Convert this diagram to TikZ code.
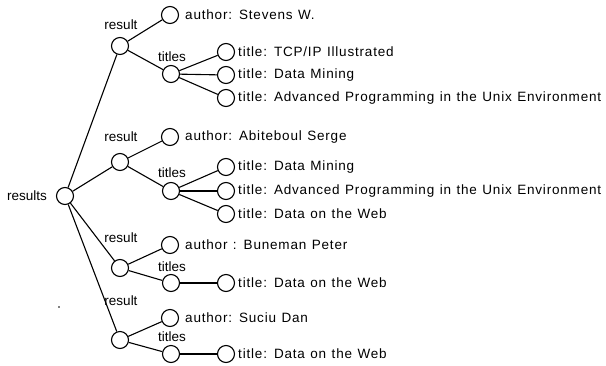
\documentclass[tikz,border=0pt]{standalone}
\usepackage{fontspec}
\setmainfont{Liberation Sans}[LetterSpace=6,WordSpace=1.2]
\newfontfamily\tightsf{Liberation Sans}
\begin{document}
\begin{tikzpicture}[x=1pt,y=-1pt,
  vtx/.style={draw,circle,minimum size=17pt,inner sep=0pt,line width=1.1pt},
  lbl/.style={anchor=west,inner sep=0pt,font=\fontsize{13.5}{15}\selectfont},
  elbl/.style={anchor=center,inner sep=0pt,font=\tightsf\fontsize{13.5}{15}\selectfont},
  edge/.style={line width=1.1pt}]
\useasboundingbox (0,0) rectangle (606,365);
% root
\node[vtx] (root) at (65,196) {};
\node[elbl,anchor=east] at (47,196) {results};
% first result
\node[vtx] (r1) at (120,46) {};
\node[elbl] at (121,25) {result};
\node[vtx] (a1) at (170,15) {};
\node[lbl] at (185,15) {author: Stevens W.};
\node[vtx] (t1) at (171,74) {};
\node[elbl] at (172,57) {titles};
\node[vtx] (t11) at (226,52) {};
\node[lbl] at (238,52) {title: TCP/IP Illustrated};
\node[vtx] (t12) at (226,75) {};
\node[lbl] at (238,75) {title: Data Mining};
\node[vtx] (t13) at (226,98) {};
\node[lbl] at (238,98) {title: Advanced Programming in the Unix Environment};
% second result
\node[vtx] (r2) at (120,162) {};
\node[elbl] at (121,137) {result};
\node[vtx] (a2) at (170,137) {};
\node[lbl] at (185,137) {author: Abiteboul Serge};
\node[vtx] (t2) at (171,191) {};
\node[elbl] at (172,173) {titles};
\node[vtx] (t21) at (226,167) {};
\node[lbl] at (238,167) {title: Data Mining};
\node[vtx] (t22) at (226,191) {};
\node[lbl] at (238,191) {title: Advanced Programming in the Unix Environment};
\node[vtx] (t23) at (226,214) {};
\node[lbl] at (238,214) {title: Data on the Web};
% third result
\node[vtx] (r3) at (120,268) {};
\node[elbl] at (121,238) {result};
\node[vtx] (a3) at (170,245) {};
\node[lbl] at (185,245) {author : Buneman Peter};
\node[vtx] (t3) at (171,283) {};
\node[elbl] at (172,267) {titles};
\node[vtx] (t31) at (226,283) {};
\node[lbl] at (238,283) {title: Data on the Web};
% fourth result
\node[vtx] (r4) at (120,340) {};
\node[elbl] at (121,301) {result};
\node[vtx] (a4) at (170,318) {};
\node[lbl] at (185,318) {author: Suciu Dan};
\node[vtx] (t4) at (171,354) {};
\node[elbl] at (172,337) {titles};
\node[vtx] (t41) at (226,354) {};
\node[lbl] at (238,354) {title: Data on the Web};
% stray dot
\fill (59,307) circle (0.8pt);
% edges
\foreach \r in {r1,r2,r3,r4} \draw[edge] (root) -- (\r);
\draw[edge] (r1) -- (a1); \draw[edge] (r1) -- (t1);
\draw[edge] (t1) -- (t11); \draw[edge] (t1) -- (t12); \draw[edge] (t1) -- (t13);
\draw[edge] (r2) -- (a2); \draw[edge] (r2) -- (t2);
\draw[edge] (t2) -- (t21); \draw[edge] (t2) -- (t22); \draw[edge] (t2) -- (t23);
\draw[edge] (r3) -- (a3); \draw[edge] (r3) -- (t3); \draw[edge] (t3) -- (t31);
\draw[edge] (r4) -- (a4); \draw[edge] (r4) -- (t4); \draw[edge] (t4) -- (t41);
\end{tikzpicture}
\end{document}
